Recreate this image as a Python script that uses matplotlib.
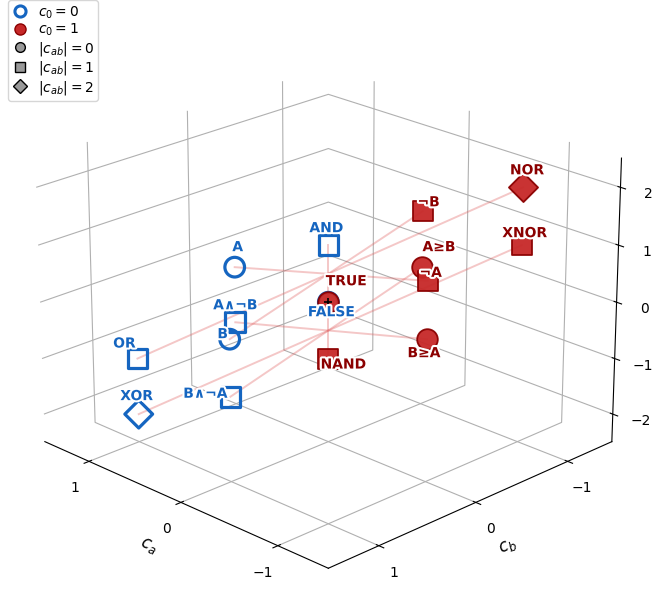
import matplotlib
matplotlib.use("Agg")
import matplotlib.pyplot as plt
from matplotlib.lines import Line2D
from matplotlib.transforms import offset_copy
import matplotlib.patheffects as pe

# The 16 two-input Boolean functions written as f = c0 + ca*A + cb*B + cab*A*B
names = ["FALSE", "AND", "A∧¬B", "A", "B∧¬A", "B", "XOR", "OR",
         "NOR", "XNOR", "¬B", "A≥B", "¬A", "B≥A", "NAND", "TRUE"]
c0 = [0, 0, 0, 0, 0, 0, 0, 0, 1, 1, 1, 1, 1, 1, 1, 1]
ca = [0, 0, 1, 1, 0, 0, 1, 1, -1, -1, 0, 0, -1, -1, 0, 0]
cb = [0, 0, 0, 0, 1, 1, 1, 1, -1, -1, -1, -1, 0, 0, 0, 0]
cab = [0, 1, -1, 0, -1, 0, -2, -1, 2, 1, 1, 0, 1, 0, -1, 0]

# complementary pairs (f, 1 - f)
pairs = [("FALSE", "TRUE"), ("AND", "NAND"), ("A∧¬B", "B≥A"), ("A", "¬A"),
         ("B∧¬A", "A≥B"), ("B", "¬B"), ("XOR", "XNOR"), ("OR", "NOR")]

# label offsets in pixels (dx, dy) relative to the marker
label_offsets = {
    "FALSE": (3, -10), "AND": (-2, 17), "A∧¬B": (0, 17), "A": (3, 20),
    "B∧¬A": (-25, 3), "B": (-7, 5), "XOR": (-2, 18), "OR": (-13, 15),
    "NOR": (4, 17), "XNOR": (3, 12), "¬B": (6, 9), "A≥B": (17, 20),
    "¬A": (3, 8), "B≥A": (-3, -14), "NAND": (15, -6), "TRUE": (18, 21),
}

BLUE = "#1565C0"
RED_FACE = "#C62828"
RED_EDGE = "#8B0000"
MARKERS = {0: "o", 1: "s", 2: "D"}

fig = plt.figure(figsize=(6.58, 5.92), dpi=100)
ax = fig.add_axes([-0.049, -0.060, 1.07, 1.07], projection="3d")
ax.computed_zorder = False
ax.view_init(elev=22, azim=135)
ax.set_xlim(-1.5, 1.5)
ax.set_ylim(-1.5, 1.5)
ax.set_zlim(-2.5, 2.5)
ax.set_xticks([-1, 0, 1])
ax.set_yticks([-1, 0, 1])
ax.set_zticks([-2, -1, 0, 1, 2])
ax.set_xlabel("$c_a$", fontsize=12)
ax.set_ylabel("$c_b$", fontsize=12)
for axis in (ax.xaxis, ax.yaxis, ax.zaxis):
    axis.set_pane_color((1.0, 1.0, 1.0, 0.0))

idx = {n: i for i, n in enumerate(names)}

# lines joining each function with its complement
for a, b in pairs:
    i, j = idx[a], idx[b]
    ax.plot([ca[i], ca[j]], [cb[i], cb[j]], [cab[i], cab[j]],
            color="#e06060", alpha=0.35, lw=1.4, zorder=1)

# markers, drawn back to front: hollow blue for c0 = 0, filled red for c0 = 1
order = sorted(range(len(names)), key=lambda k: (cb[k] - ca[k], c0[k]))
for rank, i in enumerate(order):
    m = MARKERS[abs(cab[i])]
    if c0[i] == 0:
        ax.scatter([ca[i]], [cb[i]], [cab[i]], marker=m, s=200,
                   facecolors="none", edgecolors=BLUE, linewidths=2.3,
                   depthshade=False, zorder=3 + rank * 0.01)
    else:
        ax.scatter([ca[i]], [cb[i]], [cab[i]], marker=m, s=220,
                   facecolors=RED_FACE, edgecolors=RED_EDGE, linewidths=1.3,
                   alpha=0.95, depthshade=False, zorder=3 + rank * 0.01)

ax.scatter([0], [0], [0], marker="+", s=40, color="black", linewidths=1.2,
           depthshade=False, zorder=5)

# labels
for i, n in enumerate(names):
    dx, dy = label_offsets[n]
    tr = offset_copy(ax.transData, fig=fig, x=dx, y=dy, units="dots")
    col = BLUE if c0[i] == 0 else RED_EDGE
    ax.text(ca[i], cb[i], cab[i], n, transform=tr, color=col,
            fontsize=10, fontweight="bold", ha="center", va="center",
            zorder=10,
            path_effects=[pe.withStroke(linewidth=3, foreground="white")])

handles = [
    Line2D([], [], marker="o", ls="none", markersize=8, markerfacecolor="none",
           markeredgecolor=BLUE, markeredgewidth=2.2, label="$c_0 = 0$"),
    Line2D([], [], marker="o", ls="none", markersize=8, markerfacecolor=RED_FACE,
           markeredgecolor=RED_EDGE, label="$c_0 = 1$"),
    Line2D([], [], marker="o", ls="none", markersize=7, markerfacecolor="#999999",
           markeredgecolor="black", label="$|c_{ab}| = 0$"),
    Line2D([], [], marker="s", ls="none", markersize=7, markerfacecolor="#999999",
           markeredgecolor="black", label="$|c_{ab}| = 1$"),
    Line2D([], [], marker="D", ls="none", markersize=7, markerfacecolor="#999999",
           markeredgecolor="black", label="$|c_{ab}| = 2$"),
]
fig.legend(handles=handles, loc="upper left", bbox_to_anchor=(0.012, 1.0),
           borderaxespad=0.0, fontsize=10, handletextpad=0.65, handlelength=1.2,
           borderpad=0.3, labelspacing=0.1)

fig.savefig("out.png", dpi=100)
